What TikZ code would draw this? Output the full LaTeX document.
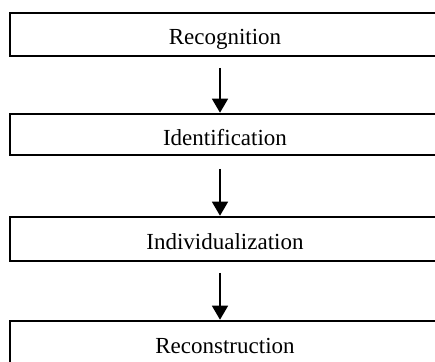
\documentclass[tikz,border=0pt]{standalone}
\usepackage{fontspec}
\setmainfont{Liberation Serif}
\usetikzlibrary{arrows.meta}
\begin{document}
\begin{tikzpicture}[x=1pt,y=1pt,
  stage/.style={draw=black, line width=1.6pt, rectangle, minimum width=430pt, minimum height=43pt, inner sep=0pt,
    text height=21pt, text depth=0pt, font=\fontsize{23}{27}\selectfont},
  arr/.style={line width=1.5pt, -{Triangle[width=16pt,length=14pt]}}]
\useasboundingbox (0,0) rectangle (435,-361);
\clip (0,0) rectangle (435,-361);
\node[stage] (b1) at (225,-34.5) {Recognition};
\node[stage, minimum height=41pt] (b2) at (225,-134.5) {Identification};
\node[stage, minimum height=44pt] (b3) at (225,-239) {Individualization};
\node[stage] (b4) at (225,-342.5) {Reconstruction};
\draw[arr] ([shift={(-5pt,-11pt)}]b1.south) -- ([shift={(-5pt,0.5pt)}]b2.north);
\draw[arr] ([shift={(-5pt,-13pt)}]b2.south) -- ([shift={(-5pt,0.5pt)}]b3.north);
\draw[arr] ([shift={(-5pt,-11pt)}]b3.south) -- ([shift={(-5pt,0.5pt)}]b4.north);
\end{tikzpicture}
\end{document}
